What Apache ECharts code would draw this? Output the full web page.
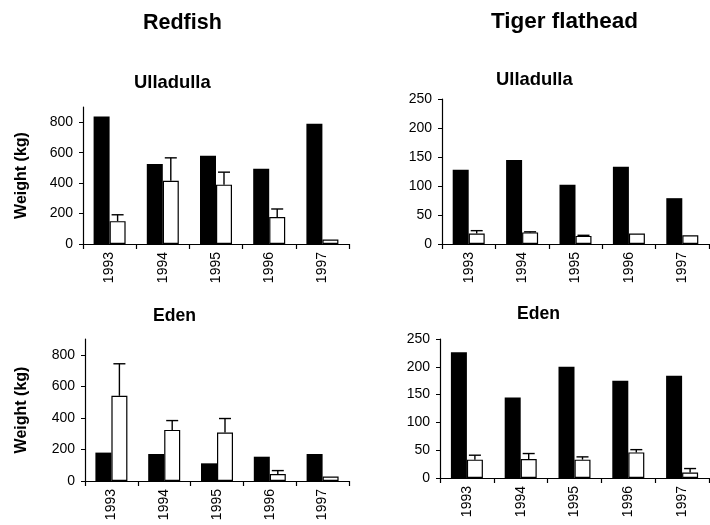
<!DOCTYPE html>
<html>
<head>
<meta charset="utf-8">
<script src="https://cdn.jsdelivr.net/npm/echarts@6/dist/echarts.min.js"></script>
<style>
  html, body { margin: 0; padding: 0; background: #fff; }
  #chart { width: 710px; height: 525px; }
</style>
</head>
<body>
<div id="chart"></div>
<script>
// Catch weights by year, two ports, two species.
const years = ['1993', '1994', '1995', '1996', '1997'];

const redfishUlladullaBlack = [838, 525, 580, 495, 790];
const redfishUlladullaWhite = [150, 415, 390, 177, 30];
const redfishUlladullaErr   = [192, 566, 472, 230, null];

const tigerUlladullaBlack = [128, 145, 102, 133, 79];
const tigerUlladullaWhite = [18, 20, 14, 18, 15];
const tigerUlladullaErr   = [23, 21, 15, null, null];

const redfishEdenBlack = [180, 171, 112, 154, 171];
const redfishEdenWhite = [540, 324, 307, 44, 28];
const redfishEdenErr   = [743, 383, 396, 66, null];

const tigerEdenBlack = [226, 145, 200, 175, 184];
const tigerEdenWhite = [33, 34, 33, 46, 10];
const tigerEdenErr   = [41, 44, 38, 51, 17];

const redfishTicks = [0, 200, 400, 600, 800];
const tigerTicks = [0, 50, 100, 150, 200, 250];

const FONT = '"Liberation Sans", Arial, sans-serif';
const BAR_W = 16;

const panels = [
  { grid: { left: 83, top: 107, width: 266, height: 137 }, max: 900, ticks: redfishTicks, name: 'Weight (kg)', nameGap: 53,
    black: redfishUlladullaBlack, white: redfishUlladullaWhite, err: redfishUlladullaErr },
  { grid: { left: 442, top: 99, width: 267, height: 145 }, max: 250, ticks: tigerTicks, name: '', nameGap: 0,
    black: tigerUlladullaBlack, white: tigerUlladullaWhite, err: tigerUlladullaErr },
  { grid: { left: 85, top: 339, width: 264, height: 142 }, max: 900, ticks: redfishTicks, name: 'Weight (kg)', nameGap: 55,
    black: redfishEdenBlack, white: redfishEdenWhite, err: redfishEdenErr },
  { grid: { left: 440, top: 339, width: 269, height: 139 }, max: 250, ticks: tigerTicks, name: '', nameGap: 0,
    black: tigerEdenBlack, white: tigerEdenWhite, err: tigerEdenErr }
];

const grids = [], xAxes = [], yAxes = [], series = [];

panels.forEach((p, i) => {
  grids.push(Object.assign({ containLabel: false }, p.grid));
  xAxes.push({
    type: 'category', gridIndex: i, data: years,
    axisLine: { lineStyle: { color: '#000', width: 1.2 } },
    axisTick: { show: true, length: 5, lineStyle: { color: '#000', width: 1.2 } },
    axisLabel: { rotate: 90, margin: 8, color: '#000', fontFamily: FONT, fontSize: 14 },
    splitLine: { show: false }
  });
  yAxes.push({
    type: 'value', gridIndex: i, min: 0, max: p.max,
    name: p.name, nameLocation: 'middle', nameRotate: 90, nameGap: p.nameGap,
    nameTextStyle: { color: '#000', fontFamily: FONT, fontSize: 16, fontWeight: 'bold' },
    axisLine: { show: true, lineStyle: { color: '#000', width: 1.2 } },
    axisTick: { show: true, length: 4, customValues: p.ticks, lineStyle: { color: '#000' } },
    axisLabel: { margin: 10, customValues: p.ticks, color: '#000', fontFamily: FONT, fontSize: 14 },
    splitLine: { show: false }
  });
  series.push({
    type: 'bar', xAxisIndex: i, yAxisIndex: i, data: p.black,
    barWidth: BAR_W, barGap: '0%',
    itemStyle: { color: '#000' }, silent: true
  });
  series.push({
    type: 'bar', xAxisIndex: i, yAxisIndex: i, data: p.white,
    barWidth: BAR_W, barGap: '0%',
    itemStyle: { color: '#fff', borderColor: '#000', borderWidth: 1.2 }, silent: true
  });
  // upper error bars on the open bars
  const errData = [];
  p.err.forEach((e, k) => { if (e != null) errData.push([k, p.white[k], e]); });
  series.push({
    type: 'custom', xAxisIndex: i, yAxisIndex: i, data: errData, silent: true, z: 5,
    renderItem: (params, api) => {
      const base = api.coord([api.value(0), api.value(1)]);
      const top = api.coord([api.value(0), api.value(2)]);
      const x = base[0] + BAR_W / 2;
      const st = { stroke: '#000', lineWidth: 1.4 };
      return {
        type: 'group',
        children: [
          { type: 'line', shape: { x1: x, y1: base[1], x2: x, y2: top[1] }, style: st },
          { type: 'line', shape: { x1: x - 6, y1: top[1], x2: x + 6, y2: top[1] }, style: st }
        ]
      };
    }
  });
});

const head = (text, left, top, size) => ({
  text, left, top, padding: 0,
  textStyle: { color: '#000', fontFamily: FONT, fontSize: size, fontWeight: 'bold' }
});

const chart = echarts.init(document.getElementById('chart'), null, { renderer: 'canvas' });
chart.setOption({
  animation: false,
  backgroundColor: '#fff',
  title: [
    head('Redfish', 143, 12, 21.5),
    head('Tiger flathead', 491, 10, 22.5),
    head('Ulladulla', 134, 74, 18.4),
    head('Ulladulla', 496, 71, 18.4),
    head('Eden', 153, 307, 17.6),
    head('Eden', 517, 305, 17.6)
  ],
  grid: grids,
  xAxis: xAxes,
  yAxis: yAxes,
  series: series
});
</script>
</body>
</html>
